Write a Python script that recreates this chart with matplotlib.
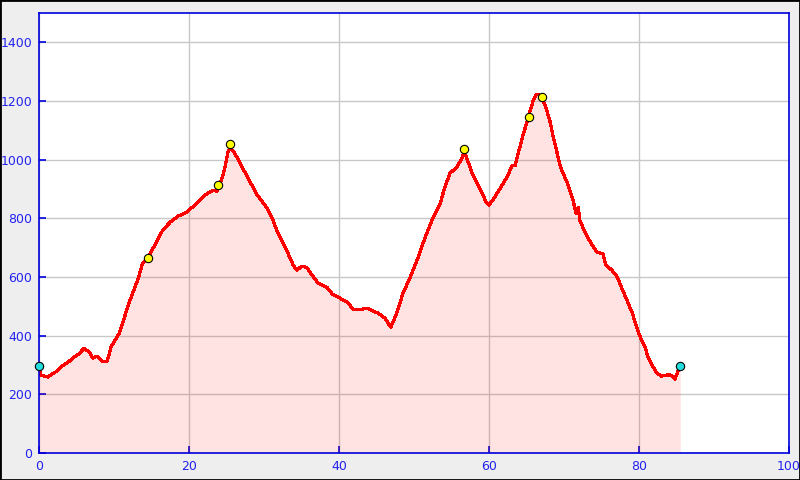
import matplotlib
matplotlib.use("Agg")
import matplotlib.pyplot as plt
from matplotlib.patches import Rectangle

distance_km = [0, 0.27, 0.67, 1.2, 1.7, 2.4, 3.1, 3.9, 4.7, 5.3, 6.0, 6.7, 7.2, 7.7, 8.4, 9.1,
               9.6, 10.7, 12.0, 13.3, 13.8, 14.5, 15.3, 16.5, 17.5, 18.5, 19.5, 20.8, 22.1,
               23.2, 23.7, 24.4, 24.8, 25.2, 25.5, 26.1, 27.1, 27.9, 29.1, 30.4, 31.1, 31.7,
               33.0, 33.9, 34.4, 35.0, 35.7, 36.5, 37.2, 38.4, 39.1, 39.9, 41.1, 41.9, 43.1,
               43.7, 44.5, 45.2, 46.1, 46.9, 47.7, 48.5, 49.5, 50.5, 51.5, 52.5, 53.5, 54.1,
               54.8, 55.7, 56.4, 56.7, 57.7, 58.4, 59.1, 59.6, 60.0, 60.5, 61.5, 62.4, 63.1,
               63.5, 63.9, 64.5, 65.3, 65.9, 66.3, 66.6, 67.0, 67.5, 68.1, 68.6, 69.0, 69.4,
               69.8, 70.3, 70.6, 71.2, 71.6, 71.9, 72.1, 72.8, 73.6, 74.4, 75.2, 75.6, 76.4,
               77.1, 77.7, 78.4, 79.1, 79.7, 80.3, 80.8, 81.2, 81.9, 82.4, 83.0, 83.7, 84.2,
               84.8, 85.1, 85.5]
elevation_m = [285, 266, 262, 259, 269, 279, 296, 310, 327, 337, 357, 344, 323, 330, 313, 313,
               361, 408, 511, 600, 647, 664, 702, 760, 787, 807, 818, 845, 879,
               896, 892, 936, 974, 1025, 1042, 1022, 974, 936, 879, 835, 800, 760,
               692, 640, 623, 637, 633, 603, 579, 565, 542, 531, 514, 490, 490,
               494, 484, 477, 460, 429, 477, 542, 600, 664, 736, 800, 851, 906,
               954, 974, 1005, 1030, 957, 920, 886, 855, 845, 862, 903, 940, 981,
               981, 1022, 1080, 1150, 1202, 1222, 1222, 1213, 1185, 1134, 1073, 1032, 988,
               957, 930, 909, 862, 817, 838, 794, 753, 715, 685, 678, 640, 623,
               600, 562, 521, 477, 429, 385, 361, 327, 293, 272, 262, 266, 266,
               252, 272, 296]

waypoint_km = [14.5, 23.9, 25.5, 56.7, 65.3, 67.0]
waypoint_m = [664, 913, 1053, 1036, 1145, 1213]
endpoint_km = [0, 85.5]
endpoint_m = [296, 296]

x_ticks = [0, 20, 40, 60, 80, 100]
y_ticks = [0, 200, 400, 600, 800, 1000, 1200, 1400]

fig = plt.figure(figsize=(8, 4.8), dpi=100, facecolor="#eeeeee")
fig.patches.append(Rectangle((0, 0), 1, 1, transform=fig.transFigure, fill=False,
                             edgecolor="black", linewidth=2, zorder=10))
ax = fig.add_axes([39 / 800, 27 / 480, 750 / 800, 440 / 480])
ax.set_facecolor("white")
ax.set_xlim(0, 100)
ax.set_ylim(0, 1500)
ax.set_xticks(x_ticks)
ax.set_yticks(y_ticks)
ax.grid(True, color="#c8c8c8", linewidth=1, zorder=0)
ax.set_axisbelow(True)

ax.fill_between(distance_km, elevation_m, 0, color="#ff0000", alpha=0.11, linewidth=0, zorder=1)
ax.plot(distance_km, elevation_m, color="red", linewidth=1.6, zorder=2, antialiased=False)
ax.plot(waypoint_km, waypoint_m, "o", markerfacecolor="yellow", markeredgecolor="black",
        markersize=6, markeredgewidth=0.8, zorder=3, clip_on=False)
ax.plot(endpoint_km, endpoint_m, "o", markerfacecolor="#22dddd", markeredgecolor="black",
        markersize=6, markeredgewidth=0.8, zorder=3, clip_on=False)

for s in ax.spines.values():
    s.set_color("#0000dd")
    s.set_linewidth(1.2)
ax.tick_params(direction="in", colors="#0000dd", labelcolor="#2222ee", length=5,
               width=1.2, labelsize=9)
ax.tick_params(axis="x", pad=5)
ax.tick_params(axis="y", pad=5)

fig.savefig("out.png", dpi=100, facecolor=fig.get_facecolor())
